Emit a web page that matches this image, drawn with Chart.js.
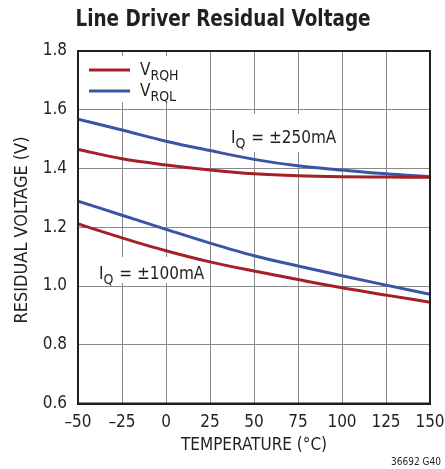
<!DOCTYPE html>
<html>
<head>
<meta charset="utf-8">
<script src="https://cdn.jsdelivr.net/npm/chart.js@4"></script>
<style>
  html, body { margin: 0; padding: 0; background: #fff; }
  #wrap { width: 445px; height: 469px; position: relative; }
</style>
</head>
<body>
<div id="wrap"><canvas id="chart" width="445" height="469"></canvas></div>
<script>
const FONT = "'Liberation Sans Narrow', 'DejaVu Sans Condensed', 'Liberation Sans', sans-serif";

const temps = [-50, -25, 0, 25, 50, 75, 100, 125, 150];
const xTicks = [-50, -25, 0, 25, 50, 75, 100, 125, 150];
const yTicks = [0.6, 0.8, 1.0, 1.2, 1.4, 1.6, 1.8];

// I_Q = ±250mA
const vrqh250 = [1.465, 1.433, 1.412, 1.395, 1.382, 1.375, 1.372, 1.371, 1.370];
const vrql250 = [1.568, 1.531, 1.493, 1.461, 1.431, 1.409, 1.395, 1.382, 1.372];
// I_Q = ±100mA
const vrqh100 = [1.211, 1.164, 1.120, 1.082, 1.051, 1.022, 0.994, 0.969, 0.945];
const vrql100 = [1.289, 1.241, 1.193, 1.146, 1.103, 1.068, 1.035, 1.003, 0.972];

const RED = "#a51f26";
const BLUE = "#3b55a6";
const INK = "#231f20";

function pts(vals) {
  return temps.map((t, i) => ({ x: t, y: vals[i] }));
}

function line(vals, color) {
  return {
    data: pts(vals),
    borderColor: color,
    borderWidth: 3,
    pointRadius: 0,
    fill: false,
    cubicInterpolationMode: "monotone"
  };
}

// text with a lowered subscript part
function subText(ctx, x, y, main, sub, rest, size) {
  ctx.font = size + "px " + FONT;
  ctx.textBaseline = "alphabetic";
  ctx.textAlign = "left";
  ctx.fillText(main, x, y);
  let w = ctx.measureText(main).width;
  ctx.font = Math.round(size * 0.85) + "px " + FONT;
  ctx.fillText(sub, x + w, y + size * 0.3);
  w += ctx.measureText(sub).width;
  if (rest) {
    ctx.font = size + "px " + FONT;
    ctx.fillText(rest, x + w + 1, y);
  }
}

const decor = {
  id: "decor",
  beforeDatasetsDraw(chart) {
    // white boxes that break the grid behind legend and labels
    const ctx = chart.ctx;
    ctx.save();
    ctx.fillStyle = "#fff";
    ctx.fillRect(81, 56, 112, 46);
    ctx.fillRect(225, 114, 110, 38);
    ctx.fillRect(92, 257, 108, 26);
    ctx.restore();
  },
  afterDraw(chart) {
    const ctx = chart.ctx;
    const a = chart.chartArea;
    ctx.save();

    // frame
    ctx.strokeStyle = INK;
    ctx.lineWidth = 2;
    ctx.strokeRect(a.left, a.top, a.right - a.left, a.bottom - a.top);

    ctx.fillStyle = INK;

    // title
    ctx.save();
    ctx.font = "bold 23px " + FONT;
    ctx.textAlign = "center";
    ctx.textBaseline = "middle";
    ctx.translate(223, 20);
    ctx.scale(0.89, 1);
    ctx.fillText("Line Driver Residual Voltage", 0, 0);
    ctx.restore();

    // axis titles
    ctx.textAlign = "center";
    ctx.textBaseline = "middle";
    ctx.font = "17px " + FONT;
    ctx.fillText("TEMPERATURE (\u00B0C)", (a.left + a.right) / 2, 446);
    ctx.save();
    ctx.font = "18px " + FONT;
    ctx.translate(22, 230);
    ctx.rotate(-Math.PI / 2);
    ctx.fillText("RESIDUAL VOLTAGE (V)", 0, 0);
    ctx.restore();

    // legend
    const items = [["RQH", RED, 70], ["RQL", BLUE, 91]];
    items.forEach(([s, c, y]) => {
      ctx.strokeStyle = c;
      ctx.lineWidth = 3;
      ctx.beginPath();
      ctx.moveTo(89, y);
      ctx.lineTo(130, y);
      ctx.stroke();
      ctx.fillStyle = INK;
      subText(ctx, 140, y + 5, "V", s, "", 17);
    });

    // current labels
    subText(ctx, 231, 143, "I", "Q", " = \u00B1250mA", 17);
    subText(ctx, 99, 279, "I", "Q", " = \u00B1100mA", 17);

    // figure code
    ctx.font = "10px " + FONT;
    ctx.textAlign = "right";
    ctx.textBaseline = "middle";
    ctx.fillText("36692 G40", 441, 462);
    ctx.restore();
  }
};

new Chart(document.getElementById("chart"), {
  type: "line",
  data: {
    datasets: [
      line(vrqh250, RED),
      line(vrql250, BLUE),
      line(vrqh100, RED),
      line(vrql100, BLUE)
    ]
  },
  options: {
    responsive: false,
    animation: false,
    events: [],
    layout: { padding: { top: 51, right: 15, left: 0, bottom: 0 } },
    plugins: { legend: { display: false }, tooltip: { enabled: false } },
    scales: {
      x: {
        type: "linear",
        min: -50,
        max: 150,
        afterBuildTicks: s => { s.ticks = xTicks.map(v => ({ value: v })); },
        afterFit: s => { s.height = 65.5; s.paddingLeft = 0; s.paddingRight = 0; },
        grid: { color: "#8a8a8a", lineWidth: 1, drawTicks: false },
        border: { color: INK, width: 2 },
        ticks: {
          padding: 9,
          color: INK,
          font: { family: FONT, size: 17 },
          callback: v => String(v).replace("-", "\u2013")
        }
      },
      y: {
        min: 0.6,
        max: 1.8,
        afterBuildTicks: s => { s.ticks = yTicks.map(v => ({ value: v })); },
        afterFit: s => { s.width = 78; s.paddingTop = 0; s.paddingBottom = 0; },
        grid: { color: "#8a8a8a", lineWidth: 1, drawTicks: false },
        border: { color: INK, width: 2 },
        ticks: {
          padding: 11,
          color: INK,
          font: { family: FONT, size: 17 },
          callback: v => v.toFixed(1)
        }
      }
    }
  },
  plugins: [decor]
});
</script>
</body>
</html>
